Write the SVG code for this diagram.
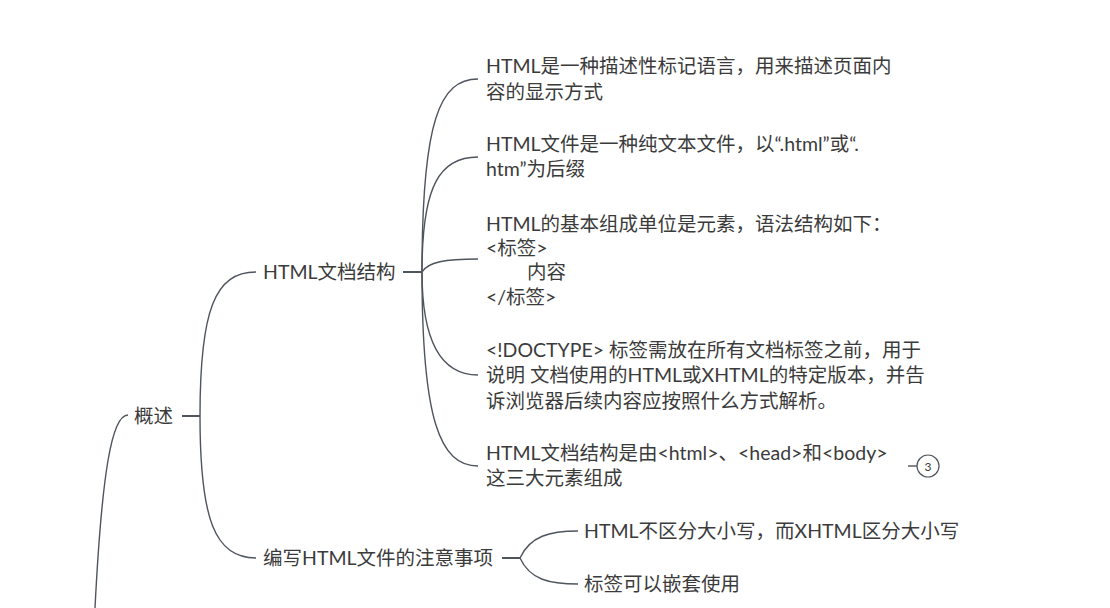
<svg xmlns="http://www.w3.org/2000/svg" width="1110" height="608" viewBox="0 0 1110 608">
<style>
  text { font-family: "Lato", "Noto Sans CJK SC", sans-serif; font-size: 19.5px; fill: #3b3b3b; }
  .c { fill: none; stroke: #4f555e; stroke-width: 1.4; }
  .s { fill: none; stroke: #4f555e; stroke-width: 2; }
  .n { font-size: 12px; text-anchor: middle; }
</style>
<rect width="1110" height="608" fill="#ffffff"/>
<g id="connectors">
  <path class="c" d="M128,415 C112,415 102,470 95,608"/>
  <path class="s" d="M182,416 L200,416"/>
  <path class="c" d="M200,416 C200,310 215,272 256,272"/>
  <path class="c" d="M200,416 C200,520 215,558 256,558"/>
  <path class="s" d="M403,272 L422,272"/>
  <path class="c" d="M422,272 C422,120 440,79 478,79"/>
  <path class="c" d="M422,272 C422,185 440,157 478,157"/>
  <path class="c" d="M422,272 C428,262 445,259 478,259"/>
  <path class="c" d="M422,272 C422,340 440,375 478,375"/>
  <path class="c" d="M422,272 C422,420 440,466 478,466"/>
  <path class="s" d="M502,558 L520,558"/>
  <path class="c" d="M520,558 C530,536 550,531 578,531"/>
  <path class="c" d="M520,558 C530,580 550,584 578,584"/>
  <path class="c" d="M908,466 L917,466"/>
</g>
<g id="root-overview">
  <text x="134" y="423">概述</text>
</g>
<g id="node-structure">
  <text x="263" y="279">HTML文档结构</text>
</g>
<g id="node-notes">
  <text x="263" y="565">编写HTML文件的注意事项</text>
</g>
<g id="leaf-1">
  <text x="486" y="73">HTML是一种描述性标记语言，用来描述页面内</text>
  <text x="486" y="99">容的显示方式</text>
</g>
<g id="leaf-2">
  <text x="486" y="151">HTML文件是一种纯文本文件，以“.html”或“.</text>
  <text x="486" y="176">htm”为后缀</text>
</g>
<g id="leaf-3">
  <text x="486" y="231">HTML的基本组成单位是元素，语法结构如下：</text>
  <text x="486" y="255">&lt;标签&gt;</text>
  <text x="527" y="279">内容</text>
  <text x="486" y="304">&lt;/标签&gt;</text>
</g>
<g id="leaf-4">
  <text x="486" y="357">&lt;!DOCTYPE&gt; 标签需放在所有文档标签之前，用于</text>
  <text x="486" y="382">说明 文档使用的HTML或XHTML的特定版本，并告</text>
  <text x="486" y="408">诉浏览器后续内容应按照什么方式解析。</text>
</g>
<g id="leaf-5">
  <text x="486" y="460">HTML文档结构是由&lt;html&gt;、&lt;head&gt;和&lt;body&gt;</text>
  <text x="486" y="485">这三大元素组成</text>
</g>
<g id="badge-3">
  <circle cx="928" cy="466" r="11" fill="#ffffff" stroke="#4f555e" stroke-width="1.2"/>
  <text class="n" x="928" y="470.5">3</text>
</g>
<g id="leaf-6">
  <text x="584" y="538">HTML不区分大小写，而XHTML区分大小写</text>
</g>
<g id="leaf-7">
  <text x="584" y="591">标签可以嵌套使用</text>
</g>
</svg>
